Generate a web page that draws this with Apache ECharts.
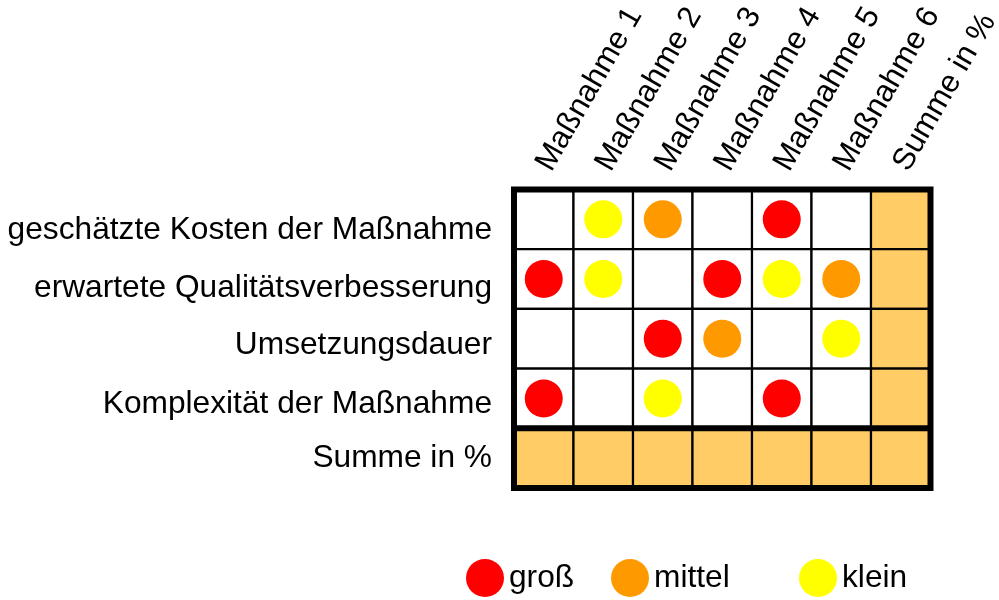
<!DOCTYPE html>
<html>
<head>
<meta charset="utf-8">
<script src="https://cdn.jsdelivr.net/npm/echarts@6/dist/echarts.min.js"></script>
<style>
html,body{margin:0;padding:0;background:#fff;}
#chart{width:999px;height:600px;}
</style>
</head>
<body>
<div id="chart"></div>
<script>
// Column headers (x categories)
const columns = ['Maßnahme 1', 'Maßnahme 2', 'Maßnahme 3', 'Maßnahme 4', 'Maßnahme 5', 'Maßnahme 6', 'Summe in %'];
// Row headers (y categories)
const rows = ['geschätzte Kosten der Maßnahme', 'erwartete Qualitätsverbesserung', 'Umsetzungsdauer', 'Komplexität der Maßnahme', 'Summe in %'];
// Rating levels (legend)
const levels = ['groß', 'mittel', 'klein'];
const levelColors = ['#FF0000', '#FF9900', '#FFFF00'];
// Ratings per row, one entry per Maßnahme 1..6 ('' = empty)
const kosten       = ['', 'klein', 'mittel', '', 'groß', ''];
const qualitaet    = ['groß', 'klein', '', 'groß', 'klein', 'mittel'];
const dauer        = ['', '', 'groß', 'mittel', '', 'klein'];
const komplexitaet = ['groß', '', 'klein', '', 'groß', ''];
const ratingRows = [kosten, qualitaet, dauer, komplexitaet];

const FONT = 'Liberation Sans, Arial, sans-serif';
const SUM_FILL = '#FFCC66';

// cell data
const cells = [];
for (let r = 0; r < rows.length; r++) {
  for (let c = 0; c < columns.length; c++) {
    cells.push([c, r, (c === columns.length - 1 || r === rows.length - 1) ? 1 : 0]);
  }
}
// scatter data per level
const levelData = levels.map(function (lv) {
  const arr = [];
  ratingRows.forEach(function (row, r) {
    row.forEach(function (v, c) { if (v === lv) arr.push([c, r]); });
  });
  return arr;
});

const chart = echarts.init(document.getElementById('chart'));

const series = [
  {
    type: 'custom',
    name: 'cells',
    z: 1,
    silent: true,
    data: cells,
    renderItem: function (params, api) {
      const p = api.coord([api.value(0), api.value(1)]);
      const s = api.size([1, 1]);
      return {
        type: 'rect',
        shape: { x: p[0] - s[0] / 2, y: p[1] - s[1] / 2, width: s[0], height: s[1] },
        style: { fill: api.value(2) ? SUM_FILL : '#FFFFFF', stroke: '#000', lineWidth: 2.2 }
      };
    }
  },
  {
    type: 'custom',
    name: 'frame',
    z: 3,
    silent: true,
    data: [[0, 0]],
    renderItem: function (params, api) {
      const s = api.size([1, 1]);
      const tl = api.coord([0, 0]);
      const br = api.coord([columns.length - 1, rows.length - 1]);
      const x0 = tl[0] - s[0] / 2, y0 = tl[1] - s[1] / 2;
      const x1 = br[0] + s[0] / 2, y1 = br[1] + s[1] / 2;
      const ySep = br[1] - s[1] / 2;
      return {
        type: 'group',
        children: [
          { type: 'rect', shape: { x: x0, y: y0, width: x1 - x0, height: y1 - y0 },
            style: { fill: 'none', stroke: '#000', lineWidth: 6 } },
          { type: 'line', shape: { x1: x0, y1: ySep, x2: x1, y2: ySep },
            style: { stroke: '#000', lineWidth: 6 } }
        ]
      };
    }
  }
];
levels.forEach(function (lv, i) {
  series.push({
    type: 'scatter',
    name: lv,
    z: 5,
    symbol: 'circle',
    symbolSize: 38,
    itemStyle: { color: levelColors[i], opacity: 1 },
    data: levelData[i]
  });
});

const legendLefts = [466, 611, 799];
const legends = levels.map(function (lv, i) {
  return {
    data: [{ name: lv, icon: 'circle' }],
    left: legendLefts[i],
    top: 559,
    padding: 0,
    itemWidth: 38,
    itemHeight: 38,
    selectedMode: false,
    textStyle: { fontSize: 31.7, color: '#000', fontFamily: FONT }
  };
});

// row label text styles (slight downward nudges, as in the reference)
const rowRich = {};
[22, 18, 14, 11, 0].forEach(function (pt, i) {
  rowRich['r' + i] = { fontSize: 31.7, color: '#000', fontFamily: FONT, padding: [pt, 0, 0, 0] };
});

chart.setOption({
  animation: false,
  backgroundColor: '#fff',
  legend: legends,
  grid: { left: 514, top: 189.5, width: 416.5, height: 298.5, show: false, containLabel: false, outerBoundsMode: 'none' },
  xAxis: {
    type: 'category',
    position: 'top',
    data: columns,
    axisLine: { show: false },
    axisTick: { show: false },
    splitLine: { show: false },
    axisLabel: {
      interval: 0,
      rotate: -60,
      margin: 21,
      fontSize: 31,
      color: '#000',
      fontFamily: FONT
    }
  },
  yAxis: {
    type: 'category',
    inverse: true,
    data: rows,
    axisLine: { show: false },
    axisTick: { show: false },
    splitLine: { show: false },
    axisLabel: {
      interval: 0,
      margin: 22,
      fontSize: 31.7,
      color: '#000',
      fontFamily: FONT,
      formatter: function (v, i) { return '{r' + i + '|' + v + '}'; },
      rich: rowRich
    }
  },
  series: series
});
</script>
</body>
</html>
